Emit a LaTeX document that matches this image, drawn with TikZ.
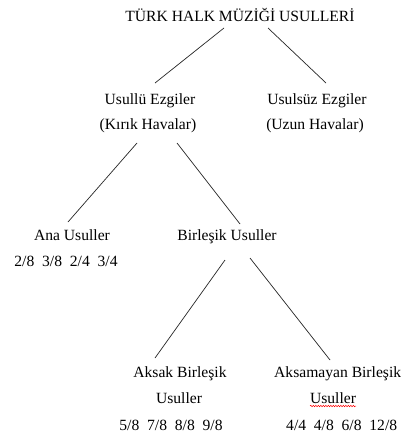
\documentclass[tikz,border=0pt]{standalone}
\usepackage{fontspec}
\setmainfont{Liberation Serif}
\usetikzlibrary{decorations.pathmorphing}
\begin{document}
\begin{tikzpicture}[x=1pt,y=-1pt,
  lbl/.style={inner sep=0pt,anchor=base,font=\fontsize{15.6}{18}\selectfont},
  lblw/.style={lbl,anchor=base west},
  edge/.style={line width=0.7pt,black!85}]
\useasboundingbox (0,0) rectangle (400,436);
\fill[white] (0,0) rectangle (400,436);
\node[lbl] (root) at (240,22) {TÜRK HALK MÜZİĞİ USULLERİ};
\node[lbl] (u1) at (150,104) {Usullü Ezgiler};
\node[lbl] (u1b) at (148,129) {(Kırık Havalar)};
\node[lbl] (u2) at (317,104) {Usulsüz Ezgiler};
\node[lbl] (u2b) at (315,129) {(Uzun Havalar)};
\node[lbl] (ana) at (72,240) {Ana Usuller};
\node[lbl] (anan) at (66,266) {2/8\ \ 3/8\ \ 2/4\ \ 3/4};
\node[lbl] (bir) at (227,240) {Birleşik Usuller};
\node[lbl] (aks) at (180,377) {Aksak Birleşik};
\node[lbl] (aksb) at (179,403) {Usuller};
\node[lbl] (aksn) at (171,430) {5/8\ \ 7/8\ \ 8/8\ \ 9/8};
\node[lblw] (akm) at (274,377) {Aksamayan Birleşik};
\node[lbl] (akmb) at (333,403) {Usuller};
\node[lblw] (akmn) at (286,430) {4/4\ \ 4/8\ \ 6/8\ \ 12/8};
\coordinate (r1) at (224,28); \coordinate (r1e) at (155,83);
\coordinate (r2) at (268,28); \coordinate (r2e) at (326,83);
\draw[edge] (r1) -- (r1e);
\draw[edge] (r2) -- (r2e);
\coordinate (k1) at (137,143); \coordinate (k1e) at (68,222);
\coordinate (k2) at (177,143); \coordinate (k2e) at (240,224);
\draw[edge] (k1) -- (k1e);
\draw[edge] (k2) -- (k2e);
\coordinate (b1) at (225,260); \coordinate (b1e) at (155,358);
\coordinate (b2) at (250,258); \coordinate (b2e) at (330,360);
\draw[edge] (b1) -- (b1e);
\draw[edge] (b2) -- (b2e);
\draw[red,line width=0.5pt,decorate,decoration={snake,amplitude=0.7pt,segment length=2.5pt}] (310,406) -- (356,406);
\end{tikzpicture}
\end{document}
